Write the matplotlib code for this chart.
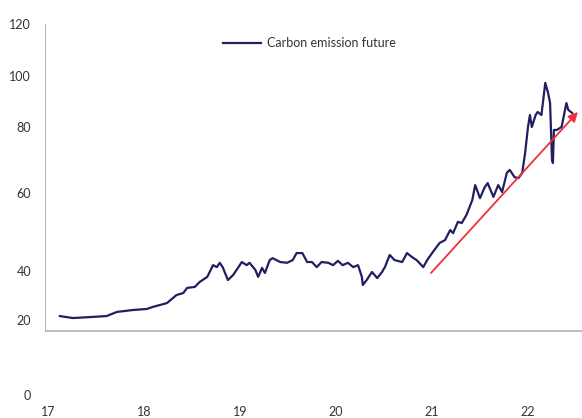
import numpy as np
import matplotlib
matplotlib.use('Agg')
import matplotlib.pyplot as plt
from matplotlib.scale import FuncScale

# Carbon emission future price (fractional year, price)
years = [17.125, 17.26, 17.44, 17.61, 17.72, 17.89, 18.03, 18.09, 18.24, 18.34,
         18.41, 18.45, 18.53, 18.58, 18.66, 18.72, 18.76, 18.79, 18.82, 18.875,
         18.93, 19.02, 19.07, 19.10, 19.16, 19.19, 19.23, 19.26, 19.31, 19.34,
         19.42, 19.49, 19.55, 19.59, 19.65, 19.70, 19.75, 19.80, 19.85, 19.92,
         19.97, 20.02, 20.07, 20.125, 20.18, 20.23, 20.27, 20.28, 20.32, 20.375,
         20.43, 20.48, 20.51, 20.56, 20.61, 20.69, 20.74, 20.79, 20.84, 20.91,
         20.95, 21.01, 21.08, 21.135, 21.19, 21.22, 21.27, 21.31, 21.36, 21.42,
         21.45, 21.5, 21.55, 21.58, 21.64, 21.69, 21.73, 21.78, 21.81, 21.86,
         21.90, 21.94, 21.97, 22.0, 22.02, 22.04, 22.08, 22.10, 22.14, 22.18,
         22.21, 22.23, 22.25, 22.26, 22.27, 22.30, 22.35, 22.40, 22.42, 22.46]
price = [21.6, 20.8, 21.2, 21.6, 23.3, 24.1, 24.5, 25.3, 26.9, 30.2,
         31.0, 33.1, 33.5, 35.5, 37.6, 41.5, 41.0, 42.1, 41.0, 36.3,
         38.4, 42.3, 41.5, 42.1, 40.3, 37.6, 40.8, 39.2, 42.8, 43.3,
         42.3, 42.1, 42.8, 44.6, 44.6, 42.3, 42.3, 41.0, 42.3, 42.1,
         41.5, 42.6, 41.5, 42.1, 41.0, 41.5, 37.6, 34.3, 36.3, 39.6,
         37.1, 39.6, 41.0, 44.1, 42.8, 42.3, 44.6, 43.6, 42.8, 41.0,
         42.8, 44.9, 47.2, 47.9, 50.5, 49.7, 52.6, 52.3, 54.4, 58.2,
         62.4, 58.7, 61.8, 63.0, 59.0, 62.4, 60.3, 66.1, 67.0, 64.8,
         64.5, 66.1, 72.1, 80.0, 84.7, 80.0, 84.7, 85.9, 84.7, 97.3,
         93.3, 89.4, 70.0, 69.1, 79.1, 79.1, 80.0, 89.4, 86.7, 85.5]

# trend arrow
trend_x = [20.99, 22.52]
trend_y = [39.2, 85.9]

y_ticks = [0, 20, 40, 60, 80, 100, 120]
x_ticks = [17, 18, 19, 20, 21, 22]
x_labels = ['17', '18', '19', '20', '21', '22']

# uneven spacing of the value axis (position of each tick from the bottom)
tick_pos = [0, 75, 124, 202, 268, 319, 371]


def fwd(v):
    return np.interp(v, [-1000] + y_ticks + [1120], [-1000 * 75 / 20] + tick_pos + [371 + 1000 * 52 / 20])


def inv(p):
    return np.interp(p, [-1000 * 75 / 20] + tick_pos + [371 + 1000 * 52 / 20], [-1000] + y_ticks + [1120])


plt.rcParams['font.family'] = ['Lato', 'DejaVu Sans']
txt = '#333333'

fig = plt.figure(figsize=(5.82, 4.18), dpi=100)
ax = fig.add_axes([45 / 582, 23 / 418, 537 / 582, 371 / 418])
ax.set_yscale(FuncScale(ax.yaxis, (fwd, inv)))
ax.set_ylim(0, 120)
ax.set_xlim(16.97, 22.5625)

line, = ax.plot(years, price, color='#1f1f62', lw=1.6, label='Carbon emission future')

ax.annotate('', xy=(trend_x[1], trend_y[1]), xytext=(trend_x[0], trend_y[0]),
            arrowprops=dict(arrowstyle='-|>', color='#ee3038', lw=1.3,
                            mutation_scale=14, shrinkA=0, shrinkB=0))

# axis lines
base = 17.07
for s in ['top', 'right', 'bottom']:
    ax.spines[s].set_visible(False)
ax.spines['left'].set_bounds(base, 120)
ax.spines['left'].set_color('#b5b5b5')
ax.axhline(base, color='#b5b5b5', lw=1.2)

ax.set_yticks(y_ticks)
ax.set_yticklabels([str(t) for t in y_ticks])
ax.set_xticks(x_ticks)
ax.set_xticklabels(x_labels)
ax.tick_params(axis='y', length=0, pad=10, labelsize=9, labelcolor=txt)
ax.tick_params(axis='x', length=0, pad=8, labelsize=9, labelcolor=txt)

fig.legend(handles=[line], loc='center left', bbox_to_anchor=(223 / 582, 1 - 43 / 418),
           frameon=False, borderpad=0, borderaxespad=0, handlelength=3.0,
           handletextpad=0.5, fontsize=9, labelcolor=txt)

fig.savefig('out.png', dpi=100, facecolor='white')
